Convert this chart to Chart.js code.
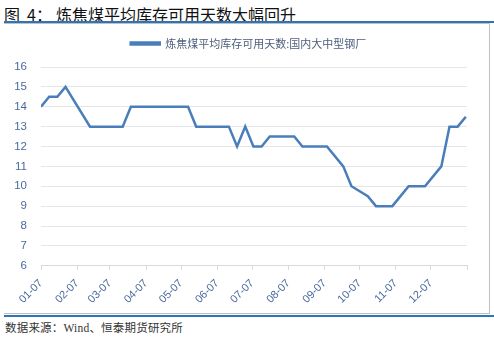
<!DOCTYPE html>
<html>
<head>
<meta charset="utf-8">
<script src="https://cdn.jsdelivr.net/npm/chart.js@4/dist/chart.umd.min.js"></script>
<style>
  html, body { margin: 0; padding: 0; background: #fff; }
  body { width: 494px; height: 341px; position: relative; overflow: hidden; }
  #title {
    position: absolute; left: 4px; top: 2px;
    font: 16px "Noto Sans CJK SC", sans-serif; color: #111; white-space: nowrap;
  }
  #title .num { margin-left: 7px; }
  #title .sep { margin-right: 4px; }
  .rule-blue { position: absolute; left: 4px; width: 490px; height: 2px; background: #2f74b5; }
  .rule-gray { position: absolute; left: 4px; width: 486px; height: 1px; background: #c0c0c0; }
  #frame {
    position: absolute; left: 4px; top: 24px; width: 485px; height: 289px;
    border-right: 1px solid #c0c0c0;
  }
  #chart { position: absolute; left: 0; top: 25px; }
  #source {
    position: absolute; left: 5px; top: 319px; letter-spacing: 0.2px;
    font: 11.5px "Liberation Serif", "Noto Sans CJK SC", serif; color: #333; white-space: nowrap;
  }
</style>
</head>
<body>
<div id="title">图<span class="num">4</span><span class="sep">：</span>炼焦煤平均库存可用天数大幅回升</div>
<div class="rule-blue" style="top:21px"></div>
<div class="rule-gray" style="top:23px"></div>
<div id="frame"></div>
<canvas id="chart" width="489" height="288"></canvas>
<div class="rule-gray" style="top:313px"></div>
<div class="rule-blue" style="top:315px"></div>
<div id="source">数据来源：Wind、恒泰期货研究所</div>

<script>
// days counted from 01-07, one label per month
const tickDays = [0, 31, 59, 90, 120, 151, 181, 212, 243, 273, 304, 334, 365];
const tickLabels = ["01-07", "02-07", "03-07", "04-07", "05-07", "06-07",
  "07-07", "08-07", "09-07", "10-07", "11-07", "12-07", ""];

// observation dates (days after 01-07) and available days of coking coal stock
const obsDays = [0, 7, 14, 21, 42, 70, 77, 126, 133, 161, 168, 175, 182, 189,
  196, 217, 224, 245, 259, 266, 280, 287, 301, 315, 329, 343, 350, 357, 364];
const obsValues = [14, 14.5, 14.5, 15, 13, 13, 14, 14, 13, 13, 12, 13, 12, 12,
  12.5, 12.5, 12, 12, 11, 10, 9.5, 9, 9, 10, 10, 11, 13, 13, 13.5];

const seriesName = "炼焦煤平均库存可用天数:国内大中型钢厂";
const lineColor = "#4a7ebb";
const tickColor = "#4a6a9e";
const axisFont = { family: "'Liberation Sans', Arial, sans-serif", size: 11 };

// extra room under the legend, and nudge it right a bit
const legendTweak = {
  id: "legendTweak",
  beforeInit(chart) {
    const fit = chart.legend.fit;
    chart.legend.fit = function () {
      fit.call(this);
      this.height += 8;
    };
  },
  afterLayout(chart) {
    chart.legend.left += 15;
    chart.legend.right += 15;
  },
};

new Chart(document.getElementById("chart"), {
  type: "line",
  data: {
    datasets: [{
      label: seriesName,
      data: obsDays.map((d, i) => ({ x: d, y: obsValues[i] })),
      borderColor: lineColor,
      backgroundColor: lineColor,
      borderWidth: 2.5,
      pointRadius: 0,
      tension: 0,
    }],
  },
  options: {
    responsive: false,
    animation: false,
    devicePixelRatio: 1,
    layout: { padding: { left: 0, right: 22, top: 3, bottom: 0 } },
    plugins: {
      tooltip: { enabled: false },
      legend: {
        position: "top",
        labels: {
          boxWidth: 29,
          boxHeight: 2,
          padding: 10,
          color: "#4d5d7c",
          font: { family: "'Noto Sans CJK SC', sans-serif", size: 11 },
        },
      },
    },
    scales: {
      x: {
        type: "linear",
        min: 0,
        max: 365,
        afterBuildTicks: s => { s.ticks = tickDays.map(v => ({ value: v })); },
        afterFit: s => { s.paddingLeft = 0; },
        ticks: {
          autoSkip: false,
          minRotation: 45,
          maxRotation: 45,
          padding: 7,
          color: tickColor,
          font: axisFont,
          callback: (v, i) => tickLabels[i],
        },
        grid: { drawOnChartArea: false, drawTicks: true, tickLength: 4, color: "#d9d9d9" },
        border: { color: "#d9d9d9" },
      },
      y: {
        min: 6,
        max: 16,
        afterFit: s => { s.width = 41; },
        ticks: { stepSize: 1, padding: 14, color: tickColor, font: { ...axisFont, size: 11.5 } },
        grid: { drawTicks: false, color: "#e6e6e6" },
        border: { display: false },
      },
    },
  },
  plugins: [legendTweak],
});
</script>
</body>
</html>
